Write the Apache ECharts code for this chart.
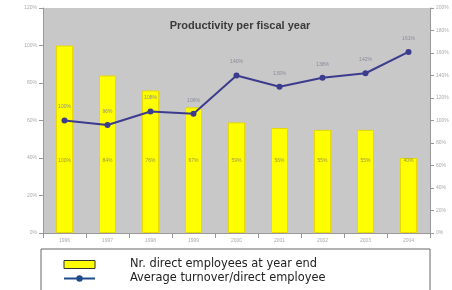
<!DOCTYPE html>
<html>
<head>
<meta charset="utf-8">
<script src="https://cdn.jsdelivr.net/npm/echarts@6/dist/echarts.min.js"></script>
<style>
  html, body { margin: 0; padding: 0; background: #fff; }
  #chart { width: 452px; height: 290px; }
</style>
</head>
<body>
<div id="chart"></div>
<script>
// fiscal years (labels are too small to read in the original, guessed)
var years = ['1996', '1997', '1998', '1999', '2000', '2001', '2002', '2003', '2004'];
// indexed values, first year = 100%
var employees = [100, 84, 76, 67, 59, 56, 55, 55, 40];
var turnover = [100, 96, 108, 106, 140, 130, 138, 142, 161];
var leftTicks = [0, 20, 40, 60, 80, 100, 120];
var rightTicks = [0, 20, 40, 60, 80, 100, 120, 140, 160, 180, 200];

var chart = echarts.init(document.getElementById('chart'));

var option = {
    animation: false,
    backgroundColor: '#ffffff',
    title: {
        text: 'Productivity per fiscal year',
        left: 235,
        top: 15,
        textAlign: 'center',
        textStyle: { fontFamily: 'Liberation Sans', fontSize: 11, fontWeight: 'bold', color: '#3a3a3a' }
    },
    grid: {
        left: 43, right: 22, top: 8, bottom: 57,
        show: true,
        backgroundColor: '#c8c8c8',
        borderWidth: 0
    },
    legend: {
        orient: 'vertical',
        left: 58,
        top: 254,
        itemGap: 3,
        itemWidth: 31,
        itemHeight: 8,
        textStyle: { fontFamily: 'DejaVu Sans', fontSize: 11.4, color: '#222', padding: [0, 0, 0, 30] },
        data: [
            { name: 'Nr. direct employees at year end', icon: 'rect', itemStyle: { color: '#ffff00', borderColor: '#333', borderWidth: 1 } },
            { name: 'Average turnover/direct employee', itemStyle: { color: '#1f4a8c' }, lineStyle: { color: '#1f4a8c' } }
        ]
    },
    graphic: [{
        type: 'rect',
        shape: { x: 41, y: 249, width: 389, height: 60 },
        style: { fill: 'none', stroke: '#666', lineWidth: 1 }
    }],
    xAxis: {
        type: 'category',
        data: years,
        axisLine: { lineStyle: { color: '#999' } },
        axisTick: { show: true, lineStyle: { color: '#999' } },
        axisLabel: { fontSize: 5, color: '#aaa', margin: 5 }
    },
    yAxis: [{
        type: 'value',
        min: 0, max: 120, interval: 20,
        axisLine: { show: true, lineStyle: { color: '#999' } },
        axisTick: { show: true, length: 4, lineStyle: { color: '#999' } },
        splitLine: { show: false },
        axisLabel: { fontSize: 5, color: '#aaa', margin: 6, formatter: '{value}%' }
    }, {
        type: 'value',
        min: 0, max: 200, interval: 20,
        position: 'right',
        axisLine: { show: true, lineStyle: { color: '#999' } },
        axisTick: { show: true, length: 4, lineStyle: { color: '#999' } },
        splitLine: { show: false },
        axisLabel: { fontSize: 5, color: '#aaa', margin: 6, formatter: '{value}%' }
    }],
    series: [{
        name: 'Nr. direct employees at year end',
        type: 'bar',
        yAxisIndex: 0,
        data: employees,
        barWidth: 17,
        itemStyle: { color: '#ffff00', borderColor: '#e6d800', borderWidth: 1 },
        label: { show: true, position: 'insideBottom', distance: 70, fontSize: 5, color: '#9a9450', formatter: '{c}%' }
    }, {
        name: 'Average turnover/direct employee',
        type: 'line',
        yAxisIndex: 1,
        data: turnover,
        symbol: 'circle',
        symbolSize: 6,
        lineStyle: { color: '#3c3c8e', width: 2 },
        itemStyle: { color: '#3c3c8e' },
        label: { show: true, position: 'top', distance: 8, fontSize: 5, color: '#8a8a9a', formatter: '{c}%' }
    }]
};

chart.setOption(option);
</script>
</body>
</html>
